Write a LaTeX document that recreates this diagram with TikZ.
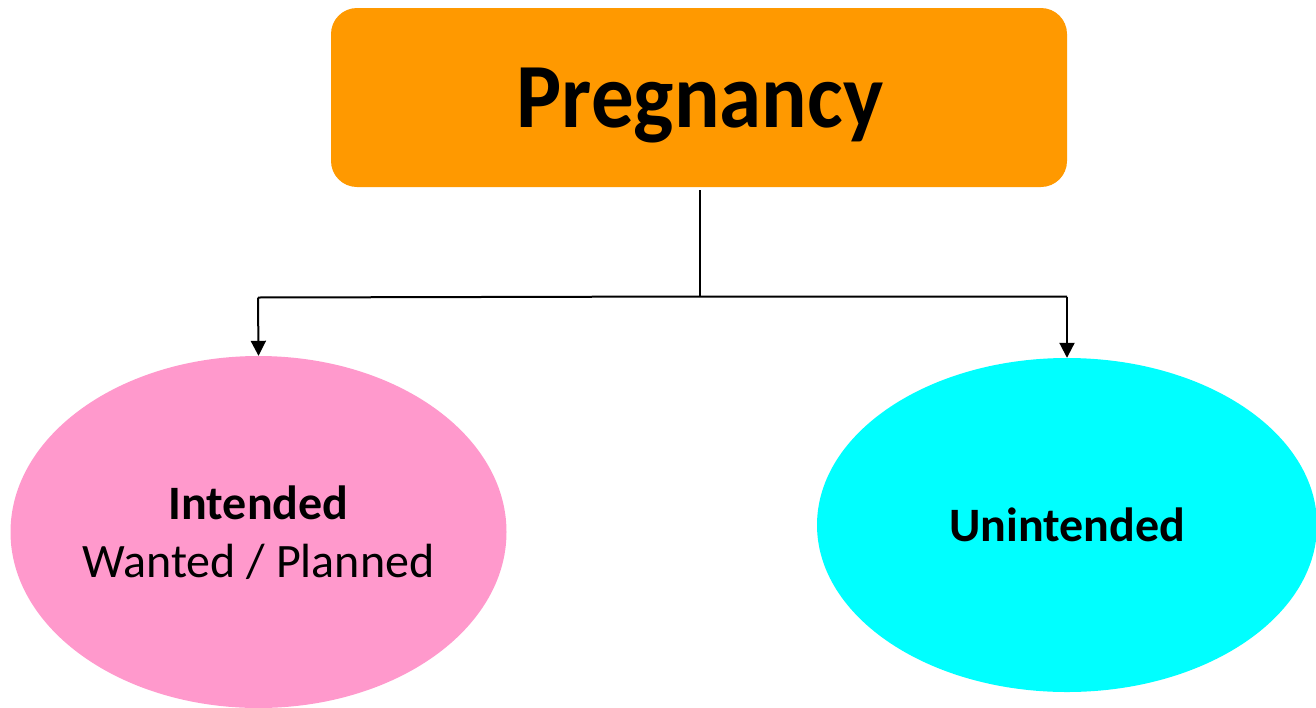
\documentclass[tikz,border=0pt]{standalone}
\usepackage{fontspec}
\setmainfont{Carlito}
\usetikzlibrary{shapes.geometric,arrows.meta}
\definecolor{boxorange}{HTML}{FF9900}
\definecolor{ovpink}{HTML}{FF99CC}
\definecolor{ovcyan}{HTML}{00FFFF}
\tikzset{
  topbox/.style={fill=boxorange, rounded corners=26pt, minimum width=736pt, minimum height=179pt, inner sep=0pt},
  bigtext/.style={inner sep=0pt, font=\fontsize{85}{90}\selectfont\bfseries},
  midtext/.style={inner sep=0pt, anchor=base, font=\fontsize{48}{57}\selectfont},
  oval/.style={ellipse, inner sep=0pt},
  conn/.style={line width=2pt, draw=black},
  arr/.style={conn, -{Triangle[length=15pt,width=15pt]}},
}
\begin{document}
\begin{tikzpicture}[x=1pt,y=-1pt]
\useasboundingbox (0,0) rectangle (1316,707);
\clip (0,0) rectangle (1316,707);
\node[topbox] (preg) at (699,97.5) {};
\node[bigtext, anchor=base] (pregtxt) at (700,127) {\scalebox{1}[1.08]{Pregnancy}};
\node[oval, fill=ovpink, minimum width=496pt, minimum height=352pt] (int) at (258.5,532) {};
\node[midtext] (intA) at (258.5,519) {\bfseries Intended};
\node[midtext] (intB) at (258.5,577) {Wanted / Planned};
\node[oval, fill=ovcyan, minimum width=500pt, minimum height=334pt] (unint) at (1067,525) {};
\node[midtext] (unintA) at (1067,541) {\bfseries Unintended};
\coordinate (mid) at (700,296.5);
\coordinate (lt) at (258,297.5);
\coordinate (rt) at (1067,296.5);
\draw[conn] (preg.south -| mid) ++(0,3) -- (mid);
\draw[conn] (lt) -- (mid) -- (rt);
\draw[arr] (lt) -- (int.north);
\draw[arr] (rt) -- (unint.north);
\end{tikzpicture}
\end{document}
